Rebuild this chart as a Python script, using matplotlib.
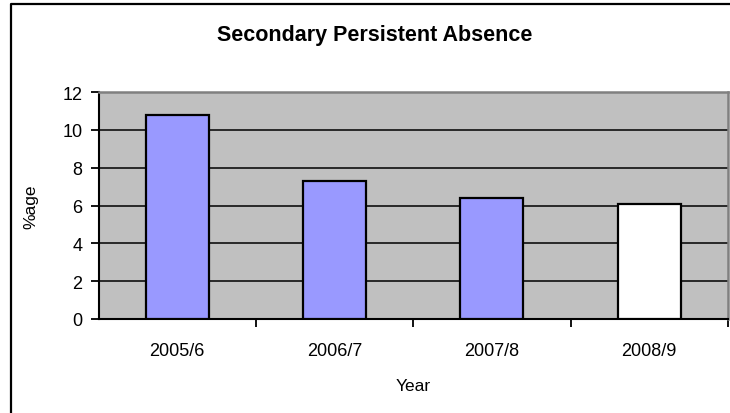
import matplotlib
matplotlib.use("Agg")
import matplotlib.pyplot as plt
from matplotlib.lines import Line2D

years = ["2005/6", "2006/7", "2007/8", "2008/9"]
absence = [10.8, 7.3, 6.4, 6.1]
bar_colors = ["#9999ff", "#9999ff", "#9999ff", "#ffffff"]
y_ticks = [0, 2, 4, 6, 8, 10, 12]


def main():
    plt.rcParams["font.family"] = ["Liberation Sans", "DejaVu Sans"]
    W, H = 730, 414
    fig = plt.figure(figsize=(W / 100, H / 100), dpi=100)

    # chart border, only the left and top edges fall inside the image
    bx, by = 11 / W, 1 - 5 / H
    fig.lines.append(Line2D([bx, bx, 1.0], [0.0, by, by],
                            transform=fig.transFigure, color="black",
                            linewidth=1.6))

    left, right, top, bottom = 98.5, 728, 93, 320
    ax = fig.add_axes([left / W, 1 - bottom / H, (right - left) / W,
                       (bottom - top) / H])
    ax.set_facecolor("#c0c0c0")

    x = list(range(len(years)))
    ax.bar(x, absence, width=0.4, color=bar_colors, edgecolor="black",
           linewidth=1.6, zorder=3)

    ax.set_xlim(-0.5, len(years) - 0.5)
    ax.set_ylim(0, 12)
    ax.set_yticks(y_ticks)
    ax.yaxis.grid(True, color="black", linewidth=1.1, zorder=1)
    ax.set_axisbelow(True)

    # category boundaries get the ticks, labels sit in between
    ax.set_xticks([i + 0.5 for i in x])
    ax.set_xticklabels([])
    ax.set_xticks(x, minor=True)
    ax.set_xticklabels(years, minor=True)
    ax.tick_params(axis="x", which="major", direction="out", length=5.5,
                   width=1.3)
    ax.tick_params(axis="x", which="minor", length=0, pad=16.5, labelsize=13)
    ax.tick_params(axis="y", direction="out", length=5.5, width=1.3,
                   pad=6, labelsize=13)

    for side in ["left", "bottom"]:
        ax.spines[side].set_color("black")
        ax.spines[side].set_linewidth(1.5)
    for side in ["top", "right"]:
        ax.spines[side].set_color("#808080")
        ax.spines[side].set_linewidth(1.8)

    ax.set_ylabel("%age", fontsize=12.5)
    ax.yaxis.set_label_coords((38 - left) / (right - left), 0.5)
    ax.set_xlabel("Year", fontsize=12.5)
    ax.xaxis.set_label_coords(0.5, (bottom - 379) / (bottom - top))

    fig.text(375 / W, 1 - 36 / H, "Secondary Persistent Absence",
             ha="center", va="center", fontsize=15.5, fontweight="bold")

    fig.savefig("out.png", dpi=100)


if __name__ == "__main__":
    main()
